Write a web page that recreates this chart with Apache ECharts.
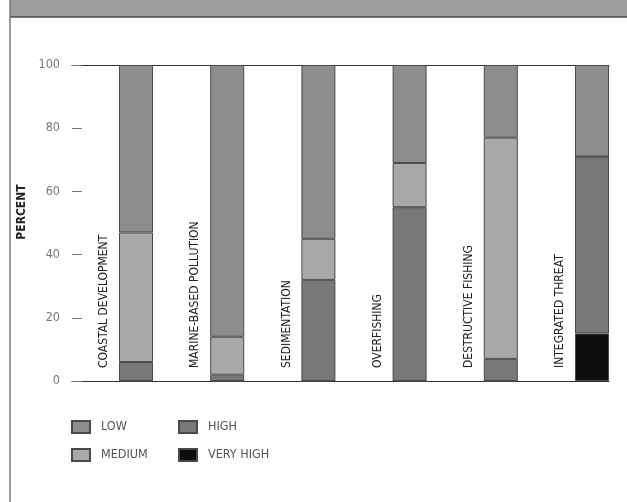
<!DOCTYPE html>
<html>
<head>
<meta charset="utf-8">
<script src="https://cdn.jsdelivr.net/npm/echarts@6/dist/echarts.min.js"></script>
<style>
  html, body { margin: 0; padding: 0; background: #fff; }
  #chart { width: 627px; height: 502px; }
</style>
</head>
<body>
<div id="chart"></div>
<script>
  // threat categories, stacked from the bottom up
  var categories = ['COASTAL DEVELOPMENT', 'MARINE-BASED POLLUTION', 'SEDIMENTATION', 'OVERFISHING', 'DESTRUCTIVE FISHING', 'INTEGRATED THREAT']
  var veryHigh = [0, 0, 0, 0, 0, 15]
  var high = [6, 2, 32, 55, 7, 56]
  var medium = [41, 12, 13, 14, 70, 0]
  var low = [53, 86, 55, 31, 23, 29]
  var yTicks = [0, 20, 40, 60, 80, 100]

  var font = "'Liberation Sans Narrow', 'DejaVu Sans Condensed', 'Liberation Sans', sans-serif"
  var myChart = echarts.init(document.getElementById('chart'))

  function barSeries(name, data, color) {
    return {
      name: name,
      type: 'bar',
      xAxisIndex: 2,
      yAxisIndex: 1,
      stack: 'threat',
      barWidth: 34,
      itemStyle: {
        color: color,
        borderColor: '#4a4a4a',
        borderWidth: 1
      },
      data: data
    }
  }

  function legendCol(left, names) {
    return {
      orient: 'vertical', left: left, top: 420, padding: 0,
      itemWidth: 18, itemHeight: 12, itemGap: 14,
      icon: 'rect',
      data: names,
      textStyle: { color: '#555', fontSize: 12.5, fontFamily: font, padding: [0, 0, 0, 6] }
    }
  }

  var option = {
    animation: false,
    backgroundColor: '#fff',
    textStyle: { fontFamily: font },
    graphic: [
      // grey header band and page border
      { type: 'rect', shape: { x: 10, y: 0, width: 617, height: 17 }, style: { fill: '#9d9d9d' } },
      { type: 'line', shape: { x1: 10, y1: 17, x2: 627, y2: 17 }, style: { stroke: '#4a4a4a', lineWidth: 1.5 } },
      { type: 'line', shape: { x1: 10, y1: 0, x2: 10, y2: 502 }, style: { stroke: '#7a7a7a', lineWidth: 1.5 } }
    ],
    grid: [
      // frame + y axis
      { left: 72, top: 65, width: 537, height: 316, outerBoundsMode: 'none' },
      // bars
      { left: 90.4, top: 65, width: 547.2, height: 316, outerBoundsMode: 'none' },
      // vertical category labels, left of each bar
      { left: 58.4, top: 65, width: 547.2, height: 316, outerBoundsMode: 'none' }
    ],
    legend: [
      legendCol(71, ['LOW', 'MEDIUM']),
      legendCol(178, ['HIGH', 'VERY HIGH'])
    ],
    xAxis: [
      {
        gridIndex: 0, type: 'category', data: categories, position: 'bottom',
        axisLine: { lineStyle: { color: '#333', width: 1.2 } },
        axisTick: { show: false }, axisLabel: { show: false }
      },
      {
        gridIndex: 0, type: 'category', data: categories, position: 'top',
        axisLine: { lineStyle: { color: '#333', width: 1.2 } },
        axisTick: { show: false }, axisLabel: { show: false }
      },
      {
        gridIndex: 1, type: 'category', data: categories,
        axisLine: { show: false }, axisTick: { show: false }, axisLabel: { show: false }
      },
      {
        gridIndex: 2, type: 'category', data: categories,
        axisLine: { show: false }, axisTick: { show: false },
        axisLabel: {
          inside: true,
          rotate: 90,
          margin: 13,
          color: '#222',
          fontSize: 12,
          fontFamily: font
        }
      }
    ],
    yAxis: [
      {
        gridIndex: 0, type: 'value', min: 0, max: 100, interval: 20,
        name: 'PERCENT',
        nameLocation: 'middle',
        nameGap: 37,
        nameTextStyle: { color: '#222', fontWeight: 'bold', fontSize: 12, fontFamily: font, padding: [0, 0, 0, 22] },
        axisLine: { show: false },
        axisTick: { show: true, inside: true, length: 10, lineStyle: { color: '#777' } },
        splitLine: { show: false },
        axisLabel: {
          margin: 12,
          color: '#777',
          fontSize: 12.5,
          fontFamily: font,
          formatter: function (v) { return yTicks.indexOf(v) >= 0 ? String(v) : '' }
        }
      },
      { gridIndex: 1, type: 'value', min: 0, max: 100, show: false },
      { gridIndex: 2, type: 'value', min: 0, max: 100, show: false }
    ],
    series: [
      barSeries('VERY HIGH', veryHigh, '#0e0e0e'),
      barSeries('HIGH', high, '#787878'),
      barSeries('MEDIUM', medium, '#a9a9a9'),
      barSeries('LOW', low, '#8d8d8d')
    ]
  }

  myChart.setOption(option)
</script>
</body>
</html>
